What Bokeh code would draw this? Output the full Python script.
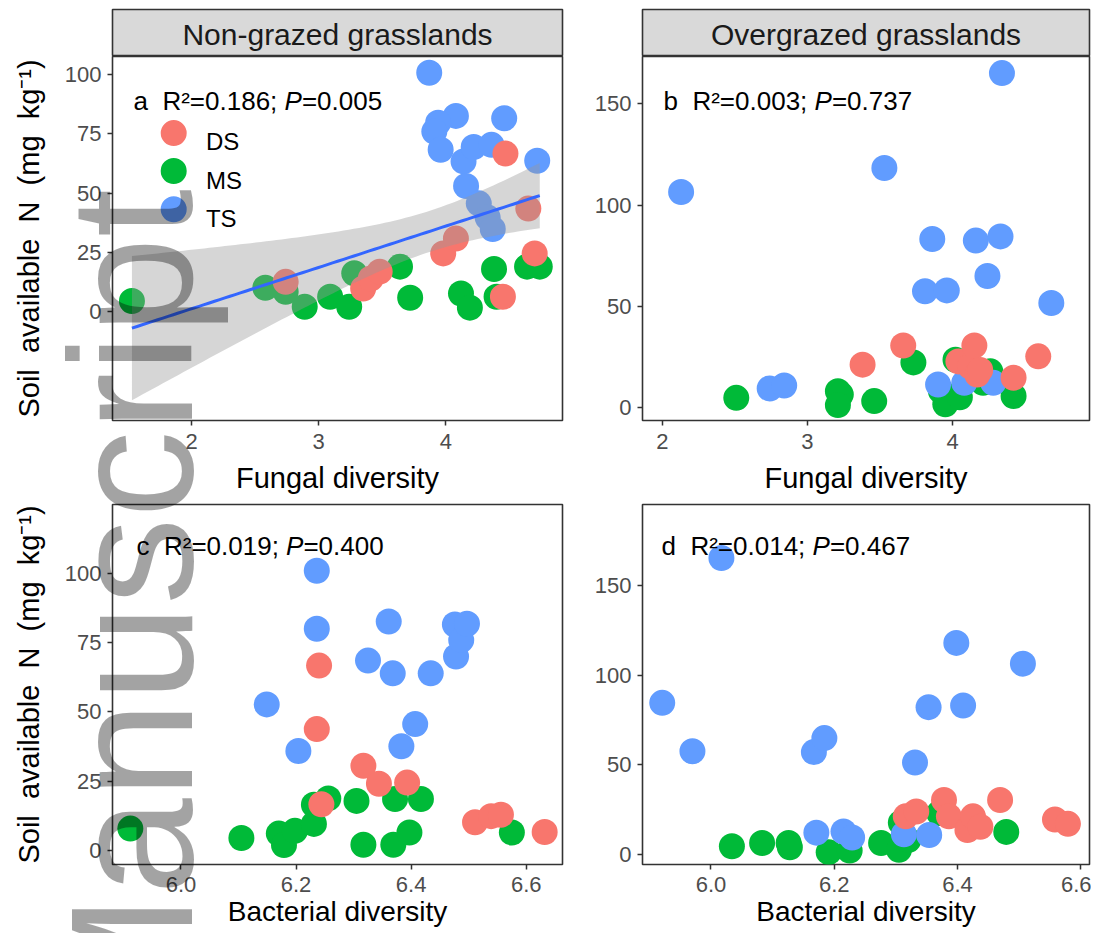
import math
import numpy as np
from bokeh.plotting import figure
from bokeh.models import Label, FixedTicker, PrintfTickFormatter, Div
from bokeh.layouts import column, row
from bokeh.embed import file_html
from bokeh.resources import INLINE

# ---------------- data ----------------
# Panel a: fungal diversity, non-grazed grasslands
a_ds_x = [2.74, 3.35, 3.41, 3.48, 3.98, 4.08, 4.45, 4.47, 4.65, 4.70]
a_ds_y = [12.6, 9.8, 14.0, 16.9, 24.6, 30.9, 6.3, 66.7, 43.5, 24.6]
a_ms_x = [1.53, 2.58, 2.74, 2.89, 3.09, 3.24, 3.28, 3.64, 3.72, 4.12, 4.19, 4.38, 4.40, 4.64, 4.74]
a_ms_y = [4.5, 10.1, 8.4, 2.1, 6.3, 2.1, 16.2, 19.0, 5.9, 7.7, 1.7, 18.0, 6.3, 19.0, 19.0]
a_ts_x = [3.87, 4.08, 4.46, 3.94, 3.91, 3.96, 4.14, 4.22, 4.36, 4.72, 4.16, 4.26, 4.33, 4.37]
a_ts_y = [100.8, 82.6, 81.6, 79.7, 76.0, 68.3, 63.4, 69.5, 70.4, 63.7, 53.0, 45.7, 39.7, 34.9]

# Panel b: fungal diversity, overgrazed grasslands
b_ds_x = [3.38, 3.66, 4.04, 4.12, 4.15, 4.17, 4.19, 4.42, 4.59]
b_ds_y = [21.1, 30.6, 22.7, 20.3, 30.6, 16.2, 18.5, 14.6, 25.2]
b_ms_x = [2.51, 3.21, 3.23, 3.21, 3.46, 3.73, 3.92, 3.95, 4.02, 4.05, 4.21, 4.26, 4.42]
b_ms_y = [4.7, 8.0, 6.4, 1.1, 3.1, 22.2, 8.0, 1.5, 23.5, 5.0, 12.1, 17.8, 5.6]
b_ts_x = [2.13, 2.74, 2.84, 3.53, 3.81, 3.86, 3.90, 3.96, 4.08, 4.16, 4.24, 4.28, 4.33, 4.34, 4.68]
b_ts_y = [106.4, 9.3, 10.8, 118.3, 57.4, 83.2, 11.3, 57.8, 12.1, 82.4, 64.9, 12.1, 84.5, 165.2, 51.6]

# Panel c: bacterial diversity, non-grazed grasslands
c_ds_x = [6.236, 6.240, 6.244, 6.317, 6.344, 6.393, 6.511, 6.539, 6.556, 6.632]
c_ds_y = [43.8, 66.7, 16.7, 30.6, 24.1, 24.5, 10.2, 12.4, 12.9, 6.7]
c_ms_x = [5.912, 6.105, 6.170, 6.179, 6.198, 6.231, 6.231, 6.256, 6.305, 6.317, 6.369, 6.372, 6.397, 6.417, 6.575]
c_ms_y = [7.9, 4.5, 6.1, 2.0, 7.1, 9.6, 16.5, 18.8, 17.9, 2.1, 2.1, 18.6, 6.5, 18.6, 6.5]
c_ts_x = [6.149, 6.204, 6.236, 6.236, 6.325, 6.361, 6.368, 6.383, 6.407, 6.434, 6.476, 6.478, 6.487, 6.497]
c_ts_y = [52.7, 35.9, 100.9, 80.0, 68.5, 82.6, 63.9, 37.6, 45.6, 63.9, 81.5, 70.0, 75.9, 81.8]

# Panel d: bacterial diversity, overgrazed grasslands
d_ds_x = [6.316, 6.333, 6.378, 6.386, 6.416, 6.425, 6.437, 6.469, 6.558, 6.579]
d_ds_y = [21.3, 24.0, 30.4, 21.3, 13.7, 21.3, 15.5, 30.4, 19.5, 17.1]
d_ms_x = [6.034, 6.083, 6.126, 6.128, 6.191, 6.225, 6.276, 6.305, 6.308, 6.320, 6.370, 6.479]
d_ms_y = [4.6, 6.4, 6.4, 4.0, 1.3, 2.2, 6.4, 2.6, 17.7, 8.0, 23.1, 12.6]
d_ts_x = [5.921, 5.970, 6.017, 6.167, 6.171, 6.184, 6.215, 6.229, 6.313, 6.331, 6.353, 6.354, 6.398, 6.409, 6.506]
d_ts_y = [84.7, 57.7, 165.6, 57.2, 12.2, 65.0, 12.8, 9.5, 11.3, 51.4, 82.3, 10.9, 118.2, 83.2, 106.6]

groups = ["DS", "MS", "TS"]
strip_titles = ["Non-grazed grasslands", "Overgrazed grasslands"]
x_titles = ["Fungal diversity", "Fungal diversity", "Bacterial diversity", "Bacterial diversity"]
y_title = "Soil\u00a0\u00a0available\u00a0\u00a0N\u00a0\u00a0(mg\u00a0\u00a0kg\u207b\u00b9)"
panel_tags = ["a", "b", "c", "d"]
r2_values = ["0.186", "0.003", "0.019", "0.014"]
p_values = ["0.005", "0.737", "0.400", "0.467"]
watermark_text = "Manuscript"

fungal_ticks = [2, 3, 4]
bacterial_ticks = [6.0, 6.2, 6.4, 6.6]
y_ticks_small = [0, 25, 50, 75, 100]
y_ticks_large = [0, 50, 100, 150]

# axis ranges
a_xr, a_yr = (1.377, 4.919), (-45.9, 107.66)
b_xr, b_yr = (1.864, 4.943), (-6.5, 173.4)
c_xr, c_yr = (5.881, 6.663), (-5.04, 124.8)
d_xr, d_yr = (5.889, 6.614), (-5.6, 195.5)

# ---------------- style ----------------
FONT = "Liberation Sans"
COLORS = {"DS": "#F8766D", "MS": "#00BA38", "TS": "#619CFF"}
DRAW_ORDER = ["MS", "TS", "DS"]
BORDER = "#333333"

# layout geometry (px)
LW, L_MBL, L_MBR = 570, 112, 8
RW, R_MBL, R_MBR = 521, 72, 2
STRIP_H, STRIP_MBT = 56, 9
TOP_H, TOP_MBT, TOP_MBB = 446, 0, 82
BOT_H, BOT_MBT, BOT_MBB = 431, 2, 69
TOTAL_H = STRIP_H + TOP_H + BOT_H

# frame boxes in layout px (left, right, top, bottom)
FR_A = (L_MBL, LW - L_MBR, STRIP_H, STRIP_H + TOP_H - TOP_MBB)
FR_B = (LW + R_MBL, LW + RW - R_MBR, FR_A[2], FR_A[3])
FR_C = (FR_A[0], FR_A[1], STRIP_H + TOP_H + BOT_MBT, TOTAL_H - BOT_MBB)
FR_D = (FR_B[0], FR_B[1], FR_C[2], FR_C[3])


def to_data(frame, xr, yr, px, py):
    l, r, t, b = frame
    return (xr[0] + (px - l) / (r - l) * (xr[1] - xr[0]),
            yr[1] - (py - t) / (b - t) * (yr[1] - yr[0]))


CW = {' ': .278, '\u00a0': .278, 'a': .556, 'b': .556, 'c': .5, 'd': .556, 'R': .722,
      '\u00b2': .333, '=': .584, '.': .278, ';': .278, 'P': .667}
for ch in "0123456789":
    CW[ch] = .556


def text_w(s, fs):
    return sum(CW.get(ch, .556) for ch in s) * fs


def t975(df):
    z = 1.959963985
    g1 = (z ** 3 + z) / 4
    g2 = (5 * z ** 5 + 16 * z ** 3 + 3 * z) / 96
    g3 = (3 * z ** 7 + 19 * z ** 5 + 17 * z ** 3 - 15 * z) / 384
    return z + g1 / df + g2 / df ** 2 + g3 / df ** 3


def lab(p, frame, xr, yr, px, py, text, **kw):
    x, y = to_data(frame, xr, yr, px, py)
    opts = dict(text_font=FONT, text_color="black")
    opts.update(kw)
    p.add_layout(Label(x=x, y=y, text=text, **opts))


def strip(title, w, mbl, mbr):
    s = figure(width=w, height=STRIP_H, x_range=(0, 1), y_range=(0, 1),
               toolbar_location=None, output_backend="svg",
               x_axis_location=None, y_axis_location=None,
               min_border_left=mbl, min_border_right=mbr, min_border_top=STRIP_MBT,
               min_border_bottom=0)
    s.grid.visible = False
    s.background_fill_color = "#D9D9D9"
    s.border_fill_color = "white"
    s.outline_line_color = BORDER
    s.outline_line_width = 1.6
    s.add_layout(Label(x=0.5, y=0.47, text=title, text_align="center", text_baseline="middle",
                       text_font=FONT, text_font_size="30px", text_color="#1A1A1A"))
    return s


def panel(idx, frame, xr, yr, w, h, mbl, mbr, mbt, mbb, xticks, yticks, xfmt, data, show_ylab):
    p = figure(width=w, height=h, x_range=xr, y_range=yr, toolbar_location=None,
               output_backend="svg", min_border_left=mbl, min_border_right=mbr,
               min_border_top=mbt, min_border_bottom=mbb)
    p.grid.visible = False
    p.outline_line_color = BORDER
    p.outline_line_width = 1.6
    p.background_fill_color = "white"
    p.border_fill_color = "white"
    for ax in p.axis:
        ax.axis_line_color = None
        ax.major_tick_line_color = BORDER
        ax.major_tick_line_width = 1.5
        ax.major_tick_out = 5
        ax.major_tick_in = 0
        ax.minor_tick_line_color = None
        ax.major_label_text_font = FONT
        ax.major_label_text_font_size = "22px"
        ax.major_label_text_color = "#4D4D4D"
    top_row = idx < 2
    p.xaxis.major_label_standoff = 8 if top_row else 7
    p.yaxis.major_label_standoff = 6
    p.xaxis.ticker = FixedTicker(ticks=xticks)
    p.xaxis.formatter = PrintfTickFormatter(format=xfmt)
    p.yaxis.ticker = FixedTicker(ticks=yticks)
    p.yaxis.formatter = PrintfTickFormatter(format="%d")
    p.xaxis.axis_label = x_titles[idx]
    p.xaxis.axis_label_text_font = FONT
    p.xaxis.axis_label_text_font_size = "29px" if top_row else "28px"
    p.xaxis.axis_label_text_font_style = "normal"
    p.xaxis.axis_label_text_color = "black"
    p.xaxis.axis_label_standoff = 10 if top_row else 1
    if show_ylab:
        p.yaxis.axis_label = y_title
        p.yaxis.axis_label_text_font = FONT
        p.yaxis.axis_label_text_font_size = "29px"
        p.yaxis.axis_label_text_font_style = "normal"
        p.yaxis.axis_label_text_color = "black"
        p.yaxis.axis_label_standoff = 17

    for g in DRAW_ORDER:
        gx, gy = data[g]
        p.scatter(gx, gy, size=26, fill_color=COLORS[g], line_color=None)

    # annotation "a  R²=...; P=..."
    fs = 26
    ax_px = [133, 663, 136, 661][idx]
    base_py = [100, 100, 545, 545][idx]
    t1 = f"{panel_tags[idx]}\u00a0\u00a0R\u00b2={r2_values[idx]};\u00a0"
    lab(p, frame, xr, yr, ax_px, base_py, t1, text_font_size=f"{fs}px", text_baseline="alphabetic")
    px2 = ax_px + text_w(t1, fs)
    lab(p, frame, xr, yr, px2, base_py, "P", text_font_size=f"{fs}px",
        text_baseline="alphabetic", text_font_style="italic")
    px3 = px2 + text_w("P", fs)
    lab(p, frame, xr, yr, px3, base_py, "=" + p_values[idx], text_font_size=f"{fs}px",
        text_baseline="alphabetic")
    return p


data_a = {"DS": (a_ds_x, a_ds_y), "MS": (a_ms_x, a_ms_y), "TS": (a_ts_x, a_ts_y)}
data_b = {"DS": (b_ds_x, b_ds_y), "MS": (b_ms_x, b_ms_y), "TS": (b_ts_x, b_ts_y)}
data_c = {"DS": (c_ds_x, c_ds_y), "MS": (c_ms_x, c_ms_y), "TS": (c_ts_x, c_ts_y)}
data_d = {"DS": (d_ds_x, d_ds_y), "MS": (d_ms_x, d_ms_y), "TS": (d_ts_x, d_ts_y)}

pa = panel(0, FR_A, a_xr, a_yr, LW, TOP_H, L_MBL, L_MBR, TOP_MBT, TOP_MBB,
           fungal_ticks, y_ticks_small, "%d", data_a, True)
pb = panel(1, FR_B, b_xr, b_yr, RW, TOP_H, R_MBL, R_MBR, TOP_MBT, TOP_MBB,
           fungal_ticks, y_ticks_large, "%d", data_b, False)
pc = panel(2, FR_C, c_xr, c_yr, LW, BOT_H, L_MBL, L_MBR, BOT_MBT, BOT_MBB,
           bacterial_ticks, y_ticks_small, "%.1f", data_c, True)
pd = panel(3, FR_D, d_xr, d_yr, RW, BOT_H, R_MBL, R_MBR, BOT_MBT, BOT_MBB,
           bacterial_ticks, y_ticks_large, "%.1f", data_d, False)

# linear fit with 95% confidence band (panel a, all groups)
xs = np.array(a_ds_x + a_ms_x + a_ts_x, dtype=float)
ys = np.array(a_ds_y + a_ms_y + a_ts_y, dtype=float)
n = len(xs)
slope, intercept = np.polyfit(xs, ys, 1)
resid = ys - (intercept + slope * xs)
s = math.sqrt(float(np.sum(resid ** 2)) / (n - 2))
xm = xs.mean()
sxx = float(np.sum((xs - xm) ** 2))
grid = np.linspace(xs.min(), xs.max(), 80)
fit = intercept + slope * grid
se = s * np.sqrt(1.0 / n + (grid - xm) ** 2 / sxx)
tq = t975(n - 2)
pa.varea(x=grid, y1=fit - tq * se, y2=fit + tq * se, fill_color="#999999", fill_alpha=0.4)
pa.line(grid, fit, line_color="#3366FF", line_width=3)

# legend (inside panel a)
leg_cy = [132.6, 170.5, 208.7]
leg_base = [141, 179.5, 218.1]
for g, cy, by in zip(groups, leg_cy, leg_base):
    lx, ly = to_data(FR_A, a_xr, a_yr, 173.2, cy)
    pa.scatter([lx], [ly], size=26, fill_color=COLORS[g], line_color=None)
    lab(pa, FR_A, a_xr, a_yr, 205.4, by, g, text_font_size="24px", text_baseline="alphabetic")

sa = strip(strip_titles[0], LW, L_MBL, L_MBR)
sb = strip(strip_titles[1], RW, R_MBL, R_MBR)

# semi-transparent rotated watermark overlaying the left side of the page
WM_SIZE = 174
WM_BASE_X, WM_START_Y = 192.5, 1040
wm_left = WM_BASE_X - 0.8465 * WM_SIZE
wm_html = (
    f'<div style="position:absolute; left:{wm_left:.1f}px; top:{WM_START_Y}px; '
    f'transform-origin:0 0; transform:rotate(-90deg); font-family:\'{FONT}\'; '
    f'font-size:{WM_SIZE}px; line-height:{WM_SIZE}px; color:rgba(0,0,0,0.36); '
    f'white-space:nowrap; margin:0; padding:0;">{watermark_text}</div>'
)
wm = Div(text=wm_html, width=320, height=TOTAL_H,
         styles={"position": "absolute", "left": "0px", "top": "0px", "overflow": "hidden",
                 "pointer-events": "none", "z-index": "10", "margin": "0", "padding": "0"})

layout = column(row(sa, sb), row(pa, pb), row(pc, pd), wm, styles={"position": "relative"})
open("out.html", "w").write(file_html(layout, INLINE))
